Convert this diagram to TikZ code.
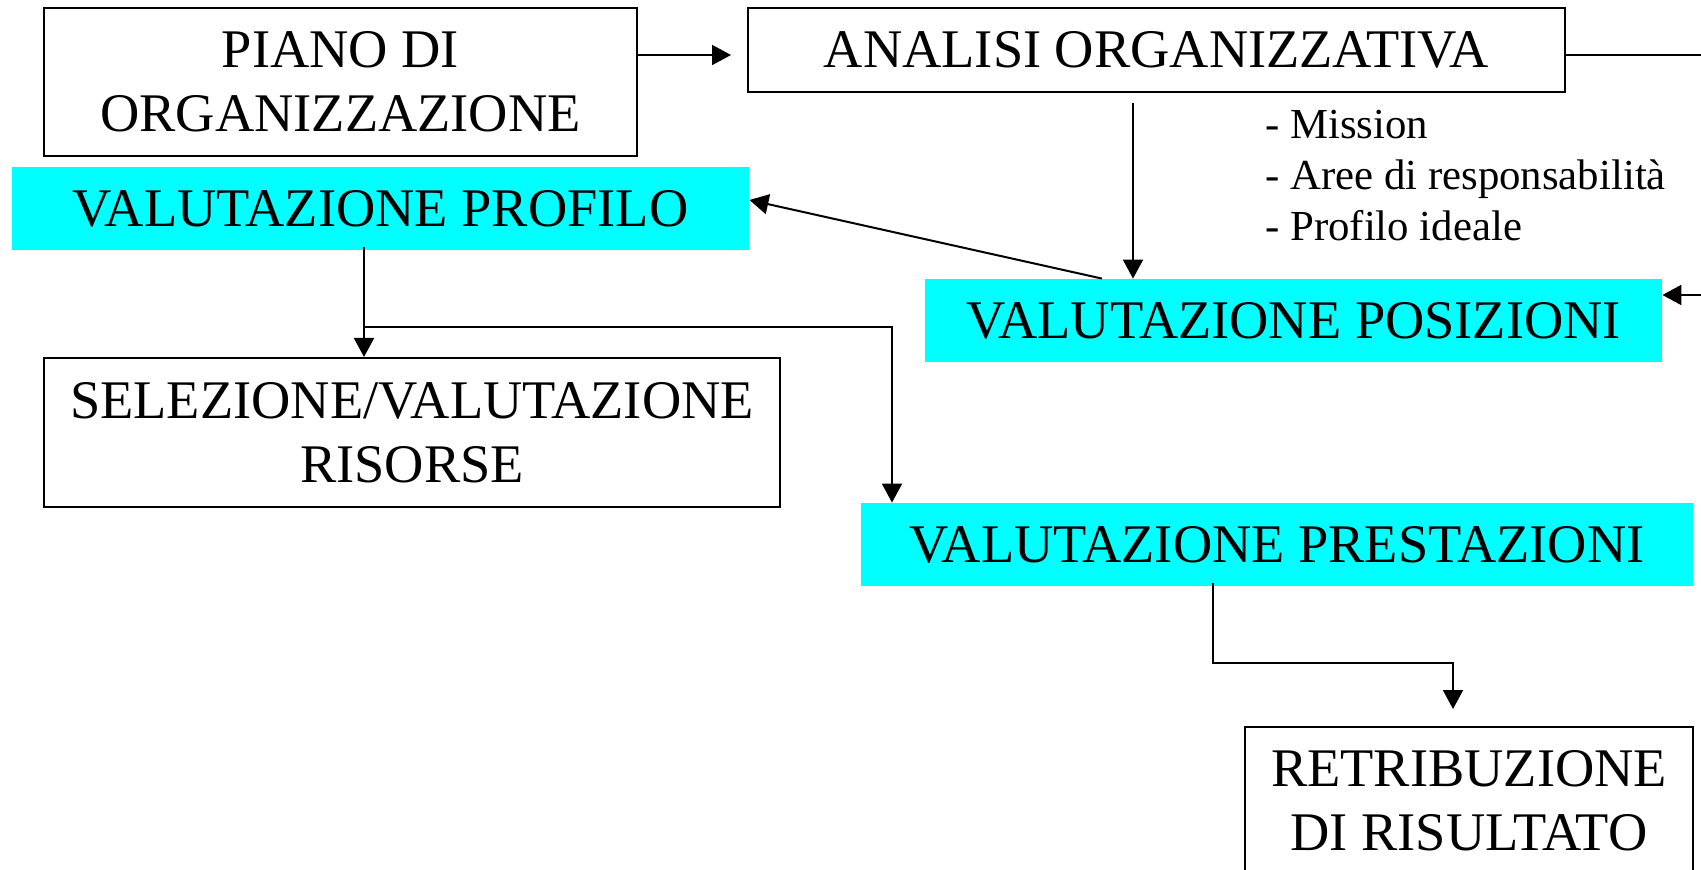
\documentclass[tikz,border=0pt]{standalone}
\usepackage{fontspec}
\setmainfont{Liberation Serif}
\usetikzlibrary{arrows.meta}
\definecolor{aqua}{RGB}{0,255,255}

\begin{document}
\begin{tikzpicture}[x=0.5pt,y=-0.5pt,
    bx/.style={draw,line width=1pt,inner sep=0pt,align=center,font=\fontsize{27.2}{32}\selectfont},
    cy/.style={fill=aqua,inner sep=0pt,align=center,font=\fontsize{27.2}{32}\selectfont},
    arr/.style={-{Triangle[length=9.5pt,width=10pt]},line width=1pt}]

    \useasboundingbox (0,0) rectangle (1701,870);

    % framed boxes
    \node[bx,minimum width=296.5pt,minimum height=74pt] (piano) at (340.5,82) {PIANO DI\\ORGANIZZAZIONE};
    \node[bx,minimum width=408.5pt,minimum height=42pt] (analisi) at (1156.5,50) {ANALISI ORGANIZZATIVA};
    \node[bx,minimum width=368pt,minimum height=74.5pt] (selezione) at (412,432.5) {SELEZIONE/VALUTAZIONE\\RISORSE};
    \node[bx,minimum width=224pt,minimum height=74pt] (retribuzione) at (1469,801) {RETRIBUZIONE\\DI RISULTATO};

    % the three valuations, on cyan
    \node[cy,minimum width=368.5pt,minimum height=41.5pt] (profilo) at (380.5,208.5) {VALUTAZIONE PROFILO};
    \node[cy,minimum width=368.5pt,minimum height=41.5pt] (posizioni) at (1293.5,320.5) {VALUTAZIONE POSIZIONI};
    \node[cy,minimum width=416pt,minimum height=41.5pt] (prestazioni) at (1277,544.5) {VALUTAZIONE PRESTAZIONI};

    % what the analysis yields
    \node[anchor=west,inner sep=0pt,align=left,font=\fontsize{21.4}{25.5}\selectfont] (voci) at (1265,176)
        {- Mission\\- Aree di responsabilità\\- Profilo ideale};

    % connectors
    \coordinate (entrata) at ([yshift=-2.5pt]analisi.west);
    \draw[arr,shorten >=8pt] (piano.east |- entrata) -- (entrata);
    \draw[arr,shorten <=5pt] ([xshift=-11.75pt]analisi.south) -- ([xshift=-11.75pt]analisi.south |- posizioni.north);
    \draw[arr] ([yshift=-2.5pt]analisi.east) -- ++(160,0) |- ([yshift=12.75pt]posizioni.east);
    \draw[arr] ([xshift=-95.75pt]posizioni.north) -- ([yshift=4.25pt]profilo.east);
    \draw[arr] ([xshift=-8.25pt,yshift=1.5pt]profilo.south) -- ([xshift=-8.25pt]profilo.south |- selezione.north);
    \coordinate (ramo) at (364,327);
    \draw[arr] (ramo) -| ([xshift=-192.5pt]prestazioni.north);
    \draw[arr,shorten >=8.5pt] ([xshift=-32pt,yshift=1.5pt]prestazioni.south) -- ++(0,80) -| ([xshift=-8pt]retribuzione.north);
\end{tikzpicture}
\end{document}
